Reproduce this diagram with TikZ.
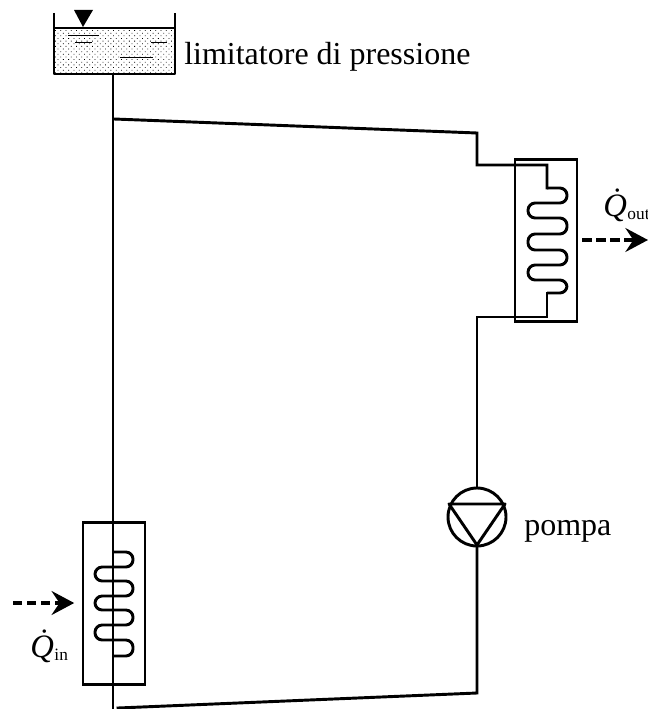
\documentclass[tikz,border=0pt]{standalone}
\usepackage{fontspec}
\setmainfont{Liberation Serif}
\usetikzlibrary{arrows.meta,patterns.meta}
\tikzset{
  pipe/.style={line width=2.2pt,line join=miter,line cap=rect},
  coil/.style={line width=2.2pt,rounded corners=5.4pt},
  boxline/.style={line width=2.2pt,line join=round},
  heat/.style={line width=2.4pt,dash pattern=on 7pt off 3.5pt},
  heathead/.style={-{Stealth[length=17pt,width=18pt,inset=6pt]}},
  label/.style={inner sep=0pt,anchor=base west,font=\fontsize{24pt}{26pt}\selectfont},
  waterline/.style={line width=0.75pt},
}
\newcommand{\Qdot}[1]{\textit{\fontsize{24.5pt}{26pt}\selectfont\.Q}\hspace{-6.5pt}\raisebox{-2.5pt}{\fontsize{13pt}{15pt}\selectfont #1}}
\begin{document}
\begin{tikzpicture}[x=0.75pt,y=-0.75pt]
\useasboundingbox (0,0) rectangle (648,709);
% tank
\coordinate (tl) at (54,13); \coordinate (tr) at (175,13);
\coordinate (bl) at (54,74); \coordinate (br) at (175,74);
\coordinate (wl) at (54,28); \coordinate (wr) at (175,28);
\fill[pattern={Dots[radius=0.42pt,distance=2.8pt,angle=45]},pattern color=black] (wl) rectangle (br);
\draw[boxline] (tl) -- (bl) -- (br) -- (tr);
\draw[line width=1.8pt] (wl) -- (wr);
\fill (74,10) -- (93,10) -- (83,27) -- cycle;
\draw[waterline] (68,36) -- (99,36);
\draw[waterline] (75,43) -- (92,43);
\draw[waterline] (151,43) -- (167,43);
\draw[waterline] (120,58) -- (153,58);
% pipe nodes
\coordinate (tankout) at (113,74);
\coordinate (teetop) at (114,119);
\coordinate (bottom) at (113,709);
\coordinate (teebot) at (118,708);
\coordinate (rt) at (477,133);
\coordinate (rt2) at (477,165);
\coordinate (rb) at (477,317);
\coordinate (lb) at (477,693);
% pump
\node[circle,draw,line width=2.2pt,minimum size=43.5pt,inner sep=0pt] (pump) at (477,517) {};
\draw[line width=2.2pt,line join=round] (449,504) -- (505,504) -- (477,545) -- cycle;
% main pipes
\draw[pipe] (tankout) -- (bottom);
\draw[pipe] (teetop) -- (rt) -- (rt2) -- (547,165) -- (547,188);
\draw[pipe] (rb) -- (pump.north);
\draw[pipe] (547,293) -- (547,317) -- (rb);
\draw[pipe] (pump.south) -- (lb) -- (teebot);
% condenser coil
\draw[coil] (547,188) -- (567,188) -- (567,203) -- (528,203) -- (528,218) -- (567,218) -- (567,234)
  -- (528,234) -- (528,250) -- (567,250) -- (567,265) -- (528,265) -- (528,280) -- (567,280) -- (567,293) -- (547,293);
\node[draw,line width=2.2pt,minimum width=46.5pt,minimum height=122pt,inner sep=0pt] (cond) at (546,240.5) {};
% evaporator coil
\draw[coil] (113,552) -- (133,552) -- (133,567) -- (95,567) -- (95,581) -- (133,581) -- (133,596)
  -- (95,596) -- (95,610) -- (133,610) -- (133,625) -- (95,625) -- (95,640) -- (133,640) -- (133,656) -- (113,656);
\node[draw,line width=2.2pt,minimum width=46.5pt,minimum height=121pt,inner sep=0pt] (evap) at (114,603.5) {};
% heat arrows
\coordinate (qo) at (648,240);
\coordinate (qi) at (13,603);
\draw[heat,heathead] ([xshift=3pt]cond.east |- qo) -- (qo);
\draw[heat,heathead] (qi) -- ([xshift=-5.5pt]evap.west |- qi);
% labels
\node[label] (l1) at (184,65) {limitatore di pressione};
\node[label] (l2) at (524,535) {pompa};
\node[label] (l3) at (603,216) {\Qdot{out}};
\node[label] (l4) at (30,657) {\Qdot{in}};
\end{tikzpicture}
\end{document}
